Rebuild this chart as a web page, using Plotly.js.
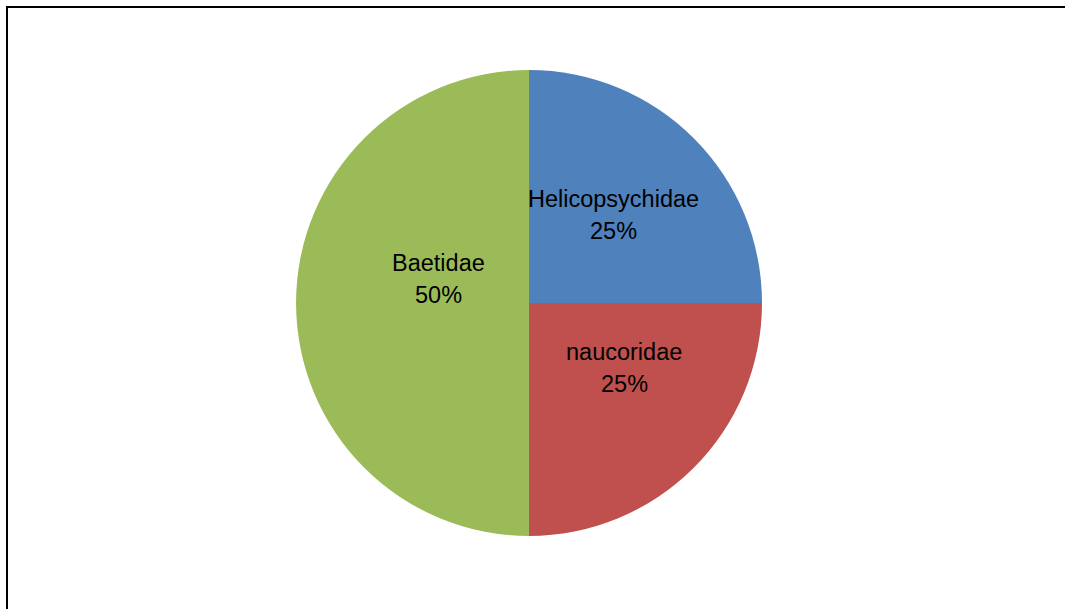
<!DOCTYPE html>
<html><head><meta charset="utf-8">
<script src="https://cdn.plot.ly/plotly-3.0.1.min.js"></script>
<style>
html,body{margin:0;padding:0;background:#fff;}
#frame{position:absolute;left:6px;top:6px;width:1059px;height:603px;border-left:2px solid #000;border-top:2px solid #000;box-sizing:border-box;}
#chart{position:absolute;left:0;top:0;width:1065px;height:609px;}
</style></head>
<body>
<div id="chart"></div>
<div id="frame"></div>
<script>
const categories = ["Helicopsychidae", "naucoridae", "Baetidae"];
const values = [25, 25, 50];
const colors = ["#4F81BD", "#C0504D", "#9BBB59"];

// label placement (pixel centres of the two text lines, as Excel placed them)
const labelPos = [
  {x: 613, y1: 199, y2: 231},
  {x: 624, y1: 352, y2: 384},
  {x: 438, y1: 263, y2: 295}
];

const W = 1065, H = 609;
const total = values.reduce((a, b) => a + b, 0);
const font = {family: 'Liberation Sans, Arial, sans-serif', size: 23.5, color: '#000'};
const annotations = [];
categories.forEach((c, i) => {
  const p = labelPos[i];
  const pct = Math.round(values[i] / total * 100) + '%';
  annotations.push({xref: 'paper', yref: 'paper', x: p.x / W, y: (H - p.y1) / H,
    xanchor: 'center', yanchor: 'middle', text: c, showarrow: false, font: font});
  annotations.push({xref: 'paper', yref: 'paper', x: p.x / W, y: (H - p.y2) / H,
    xanchor: 'center', yanchor: 'middle', text: pct, showarrow: false, font: font});
});

Plotly.newPlot('chart', [{
  type: 'pie',
  labels: categories,
  values: values,
  sort: false,
  direction: 'clockwise',
  rotation: 0,
  marker: {colors: colors, line: {width: 0}},
  textinfo: 'none',
  hoverinfo: 'none',
  domain: {x: [0.2779, 0.7155], y: [0.1199, 0.8851]}
}], {
  width: W, height: H,
  margin: {l: 0, r: 0, t: 0, b: 0},
  showlegend: false,
  paper_bgcolor: '#fff',
  annotations: annotations
}, {displayModeBar: false, staticPlot: true});
</script>
</body></html>
